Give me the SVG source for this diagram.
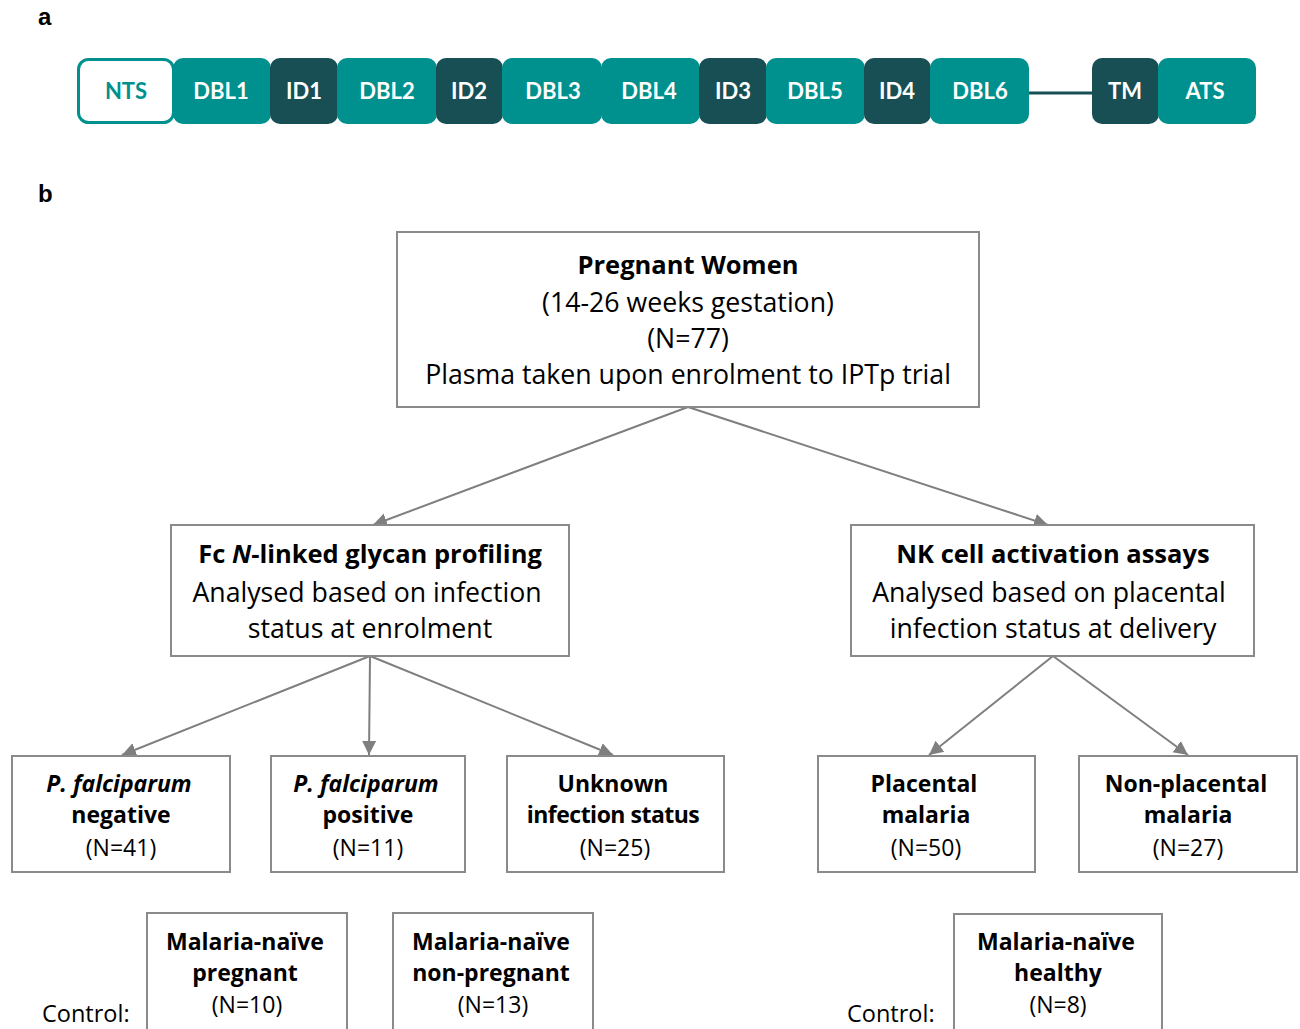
<svg xmlns="http://www.w3.org/2000/svg" width="1300" height="1029" viewBox="0 0 1300 1029">
<defs>
<style>
.lbl{font-family:"Liberation Sans",Arial,sans-serif;font-weight:bold;font-size:24px;fill:#000}
.dom text{font-family:Lato,"Open Sans",sans-serif;font-weight:bold;font-size:22px;fill:#fff;text-anchor:middle}
.teal{fill:#00918E}
.dark{fill:#174F55}
.box rect{fill:#fff;stroke:#8a8a8a;stroke-width:2}
.box text{font-family:"Open Sans",Lato,sans-serif;font-size:26.7px;fill:#000;text-anchor:middle}
.box text.b{font-size:25.5px}
.sm text{font-size:23px}
.sm text.b{font-size:23px}
.b{font-weight:bold}
.i{font-style:italic}
.ctl{font-family:"Open Sans",Lato,sans-serif;font-size:23.5px;fill:#000}
.conn line{stroke:#7f7f7f;stroke-width:2;fill:none}
</style>
<marker id="ah" markerUnits="userSpaceOnUse" markerWidth="16" markerHeight="16" refX="14" refY="8" orient="auto">
<path d="M0,1 L14,8 L0,15 z" fill="#7f7f7f"/>
</marker>
</defs>
<rect width="1300" height="1029" fill="#fff"/>

<text class="lbl" x="38" y="25">a</text>
<text class="lbl" x="38" y="202">b</text>

<g id="domains" class="dom">
<line x1="1025" y1="93" x2="1096" y2="93" stroke="#174F55" stroke-width="3"/>
<g id="d-nts"><rect x="78.5" y="59.5" width="95" height="63" rx="10" fill="#fff" stroke="#00918E" stroke-width="3"/><text x="126" y="99" style="fill:#00918E">NTS</text></g>
<g id="d-dbl1"><rect class="teal" x="173" y="58" width="98" height="66" rx="10"/><text x="221" y="99">DBL1</text></g>
<g id="d-id1"><rect class="dark" x="270" y="58" width="68" height="66" rx="10"/><text x="304" y="99">ID1</text></g>
<g id="d-dbl2"><rect class="teal" x="337" y="58" width="100" height="66" rx="10"/><text x="387" y="99">DBL2</text></g>
<g id="d-id2"><rect class="dark" x="436" y="58" width="67" height="66" rx="10"/><text x="469" y="99">ID2</text></g>
<g id="d-dbl3"><rect class="teal" x="502" y="58" width="100" height="66" rx="10"/><text x="553" y="99">DBL3</text></g>
<g id="d-dbl4"><rect class="teal" x="601" y="58" width="99" height="66" rx="10"/><text x="649" y="99">DBL4</text></g>
<g id="d-id3"><rect class="dark" x="699" y="58" width="68" height="66" rx="10"/><text x="733" y="99">ID3</text></g>
<g id="d-dbl5"><rect class="teal" x="766" y="58" width="99" height="66" rx="10"/><text x="815" y="99">DBL5</text></g>
<g id="d-id4"><rect class="dark" x="864" y="58" width="67" height="66" rx="10"/><text x="897" y="99">ID4</text></g>
<g id="d-dbl6"><rect class="teal" x="930" y="58" width="99" height="66" rx="10"/><text x="980" y="99">DBL6</text></g>
<g id="d-tm"><rect class="dark" x="1092" y="58" width="67" height="66" rx="10"/><text x="1125" y="99">TM</text></g>
<g id="d-ats"><rect class="teal" x="1158" y="58" width="98" height="66" rx="10"/><text x="1205" y="99">ATS</text></g>
</g>

<g id="connectors" class="conn">
<line x1="688" y1="407" x2="373" y2="525" marker-end="url(#ah)"/>
<line x1="688" y1="407" x2="1048" y2="525" marker-end="url(#ah)"/>
<line x1="370" y1="656" x2="122" y2="755" marker-end="url(#ah)"/>
<line x1="370" y1="656" x2="369" y2="755" marker-end="url(#ah)"/>
<line x1="370" y1="656" x2="613" y2="755" marker-end="url(#ah)"/>
<line x1="1053" y1="656" x2="929" y2="755" marker-end="url(#ah)"/>
<line x1="1053" y1="656" x2="1188" y2="755" marker-end="url(#ah)"/>
</g>

<g id="n-pregnant" class="box">
<rect x="397" y="232" width="582" height="175"/>
<text x="688" y="274" class="b">Pregnant Women</text>
<text x="688" y="312">(14-26 weeks gestation)</text>
<text x="688" y="348">(N=77)</text>
<text x="688" y="384">Plasma taken upon enrolment to IPTp trial</text>
</g>

<g id="n-glycan" class="box">
<rect x="171" y="525" width="398" height="131"/>
<text x="370" y="563" class="b">Fc <tspan class="i">N</tspan>-linked glycan profiling</text>
<text x="367" y="602">Analysed based on infection</text>
<text x="370" y="638">status at enrolment</text>
</g>

<g id="n-nk" class="box">
<rect x="851" y="525" width="403" height="131"/>
<text x="1053" y="563" class="b">NK cell activation assays</text>
<text x="1049" y="602">Analysed based on placental</text>
<text x="1053" y="638">infection status at delivery</text>
</g>

<g id="n-neg" class="box sm">
<rect x="12" y="756" width="218" height="116"/>
<text x="119" y="792" class="b i">P. falciparum</text>
<text x="121" y="823" class="b">negative</text>
<text x="121" y="856">(N=41)</text>
</g>

<g id="n-pos" class="box sm">
<rect x="271" y="756" width="194" height="116"/>
<text x="366" y="792" class="b i">P. falciparum</text>
<text x="368" y="823" class="b">positive</text>
<text x="368" y="856">(N=11)</text>
</g>

<g id="n-unknown" class="box sm">
<rect x="507" y="756" width="217" height="116"/>
<text x="613" y="792" class="b">Unknown</text>
<text x="613" y="823" class="b" style="letter-spacing:-0.5px">infection status</text>
<text x="615" y="856">(N=25)</text>
</g>

<g id="n-placental" class="box sm">
<rect x="818" y="756" width="217" height="116"/>
<text x="924" y="792" class="b">Placental</text>
<text x="926" y="823" class="b">malaria</text>
<text x="926" y="856">(N=50)</text>
</g>

<g id="n-nonplacental" class="box sm">
<rect x="1079" y="756" width="218" height="116"/>
<text x="1186" y="792" class="b">Non-placental</text>
<text x="1188" y="823" class="b">malaria</text>
<text x="1188" y="856">(N=27)</text>
</g>

<text class="ctl" x="42" y="1022">Control:</text>
<text class="ctl" x="847" y="1022">Control:</text>

<g id="n-ctl-preg" class="box sm">
<rect x="147" y="913" width="200" height="130"/>
<text x="245" y="950" class="b">Malaria-naïve</text>
<text x="245" y="981" class="b">pregnant</text>
<text x="247" y="1013">(N=10)</text>
</g>

<g id="n-ctl-nonpreg" class="box sm">
<rect x="393" y="913" width="200" height="130"/>
<text x="491" y="950" class="b">Malaria-naïve</text>
<text x="491" y="981" class="b">non-pregnant</text>
<text x="493" y="1013">(N=13)</text>
</g>

<g id="n-ctl-healthy" class="box sm">
<rect x="954" y="914" width="208" height="130"/>
<text x="1056" y="950" class="b">Malaria-naïve</text>
<text x="1058" y="981" class="b">healthy</text>
<text x="1058" y="1013">(N=8)</text>
</g>
</svg>
